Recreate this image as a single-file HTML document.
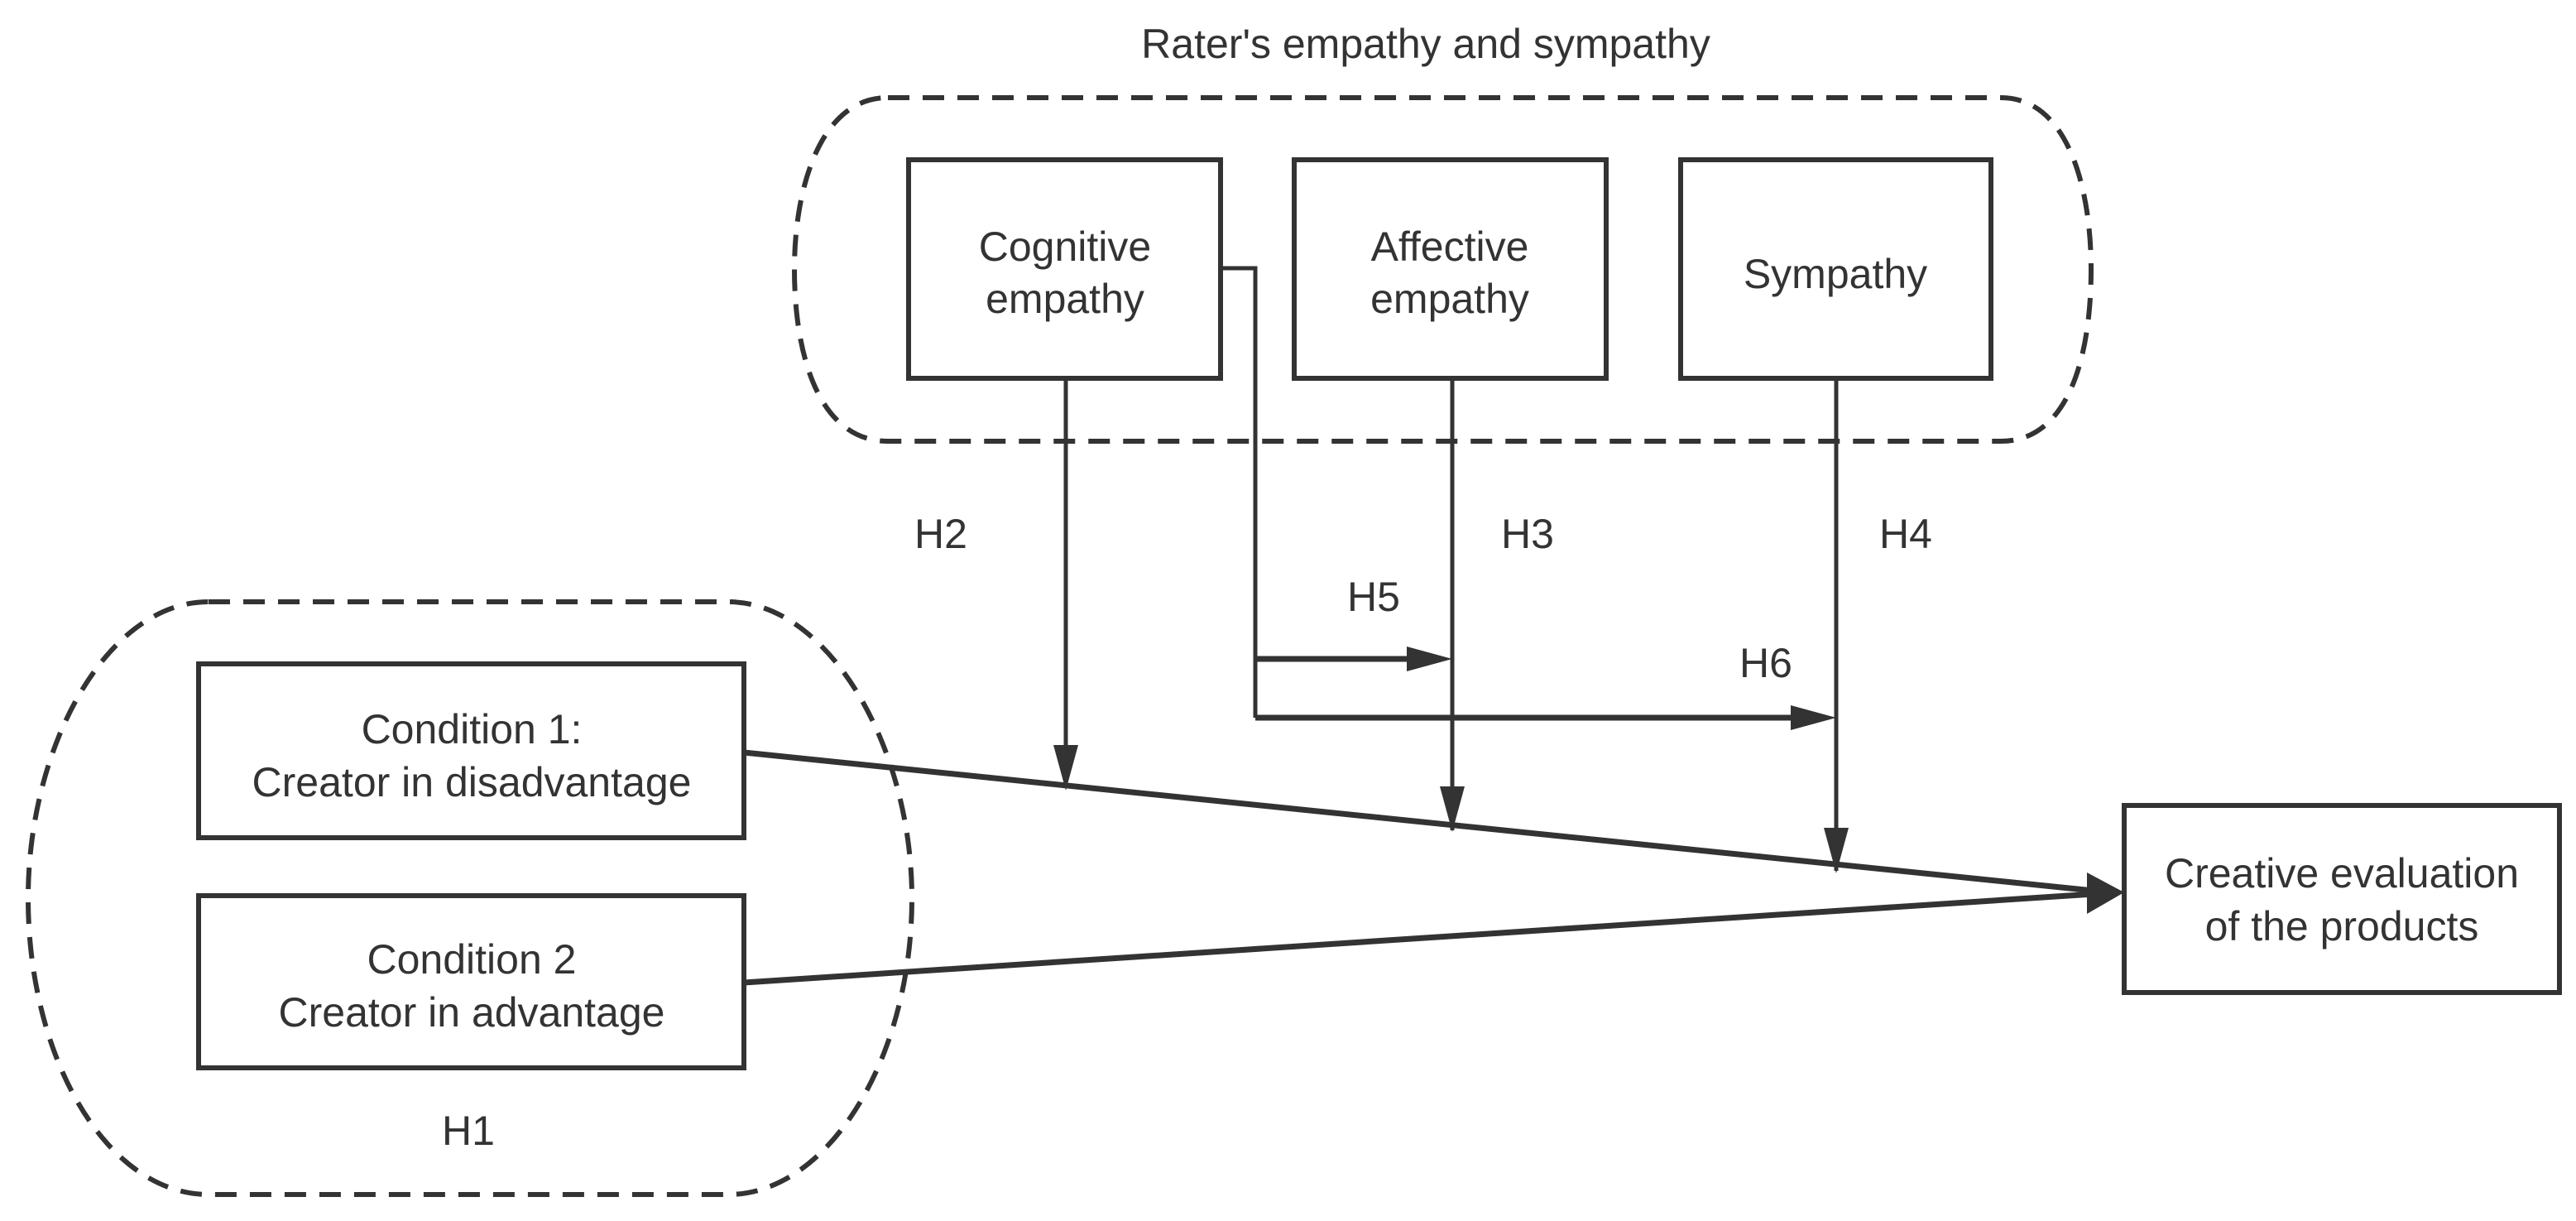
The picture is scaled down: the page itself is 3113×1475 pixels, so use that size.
<!DOCTYPE html>
<html><head><style>
html,body{margin:0;padding:0;background:#fff;}
svg{display:block;}
text{font-family:"Liberation Sans","DejaVu Sans",sans-serif;fill:#333;font-size:50px;text-anchor:middle;}
</style></head><body>
<svg width="3113" height="1475" viewBox="0 0 3113 1475" xmlns="http://www.w3.org/2000/svg">
<g fill="none" stroke="#333" stroke-width="6" stroke-dasharray="26,16">
<path d="M1073,118 L2418,118 C2500,118 2527,230 2527,325 C2527,430 2500,533 2418,533 L1073,533 C990,533 960,430 960,325 C960,230 990,118 1073,118 Z"/>
<path d="M252,727 L880,727 C1000,727 1102,900 1102,1085 C1102,1280 1000,1443 880,1443 L252,1443 C130,1443 34,1280 34,1085 C34,900 130,727 252,727 Z"/>
</g>
<g fill="#fff" stroke="#333" stroke-width="6">
<rect x="1098" y="193" width="377" height="264"/>
<rect x="1564" y="193" width="377" height="264"/>
<rect x="2031" y="193" width="375" height="264"/>
<rect x="240" y="802" width="659" height="210"/>
<rect x="240" y="1082" width="659" height="208"/>
<rect x="2567" y="973" width="526" height="226"/>
</g>
<g stroke="#333" stroke-width="5" fill="none">
<line x1="1288" y1="457" x2="1288" y2="952"/>
<line x1="1755" y1="457" x2="1755" y2="1003"/>
<line x1="2219" y1="457" x2="2219" y2="1052"/>
<polyline points="1475,324 1517,324 1517,867"/>
</g>
<g fill="#333">
<path d="M1273,900 L1303,900 L1288,955 Z"/>
<path d="M1740,950 L1770,950 L1755,1005 Z"/>
<path d="M2204,1000 L2234,1000 L2219,1055 Z"/>
<path d="M1700,781 L1755,796 L1700,811 Z"/>
<path d="M2164,852 L2219,867 L2164,882 Z"/>
<path d="M2567,1078 L2522,1054 L2522,1104 Z"/>
</g>
<g stroke="#333" stroke-width="7" fill="none">
<line x1="1517" y1="796" x2="1705" y2="796"/>
<line x1="1517" y1="867" x2="2170" y2="867"/>
<line x1="899" y1="909" x2="2530" y2="1076"/>
<line x1="899" y1="1187" x2="2530" y2="1080"/>
</g>
<text x="1723" y="70">Rater's empathy and sympathy</text>
<text x="1287" y="315">Cognitive</text>
<text x="1287" y="378">empathy</text>
<text x="1752" y="315">Affective</text>
<text x="1752" y="378">empathy</text>
<text x="2218" y="348">Sympathy</text>
<text x="570" y="898">Condition 1:</text>
<text x="570" y="962">Creator in disadvantage</text>
<text x="570" y="1176">Condition 2</text>
<text x="570" y="1240">Creator in advantage</text>
<text x="2830" y="1072">Creative evaluation</text>
<text x="2830" y="1136">of the products</text>
<text x="1137" y="662">H2</text>
<text x="1846" y="662">H3</text>
<text x="2303" y="662">H4</text>
<text x="1660" y="738">H5</text>
<text x="2134" y="818">H6</text>
<text x="566" y="1383">H1</text>
</svg>
</body></html>
